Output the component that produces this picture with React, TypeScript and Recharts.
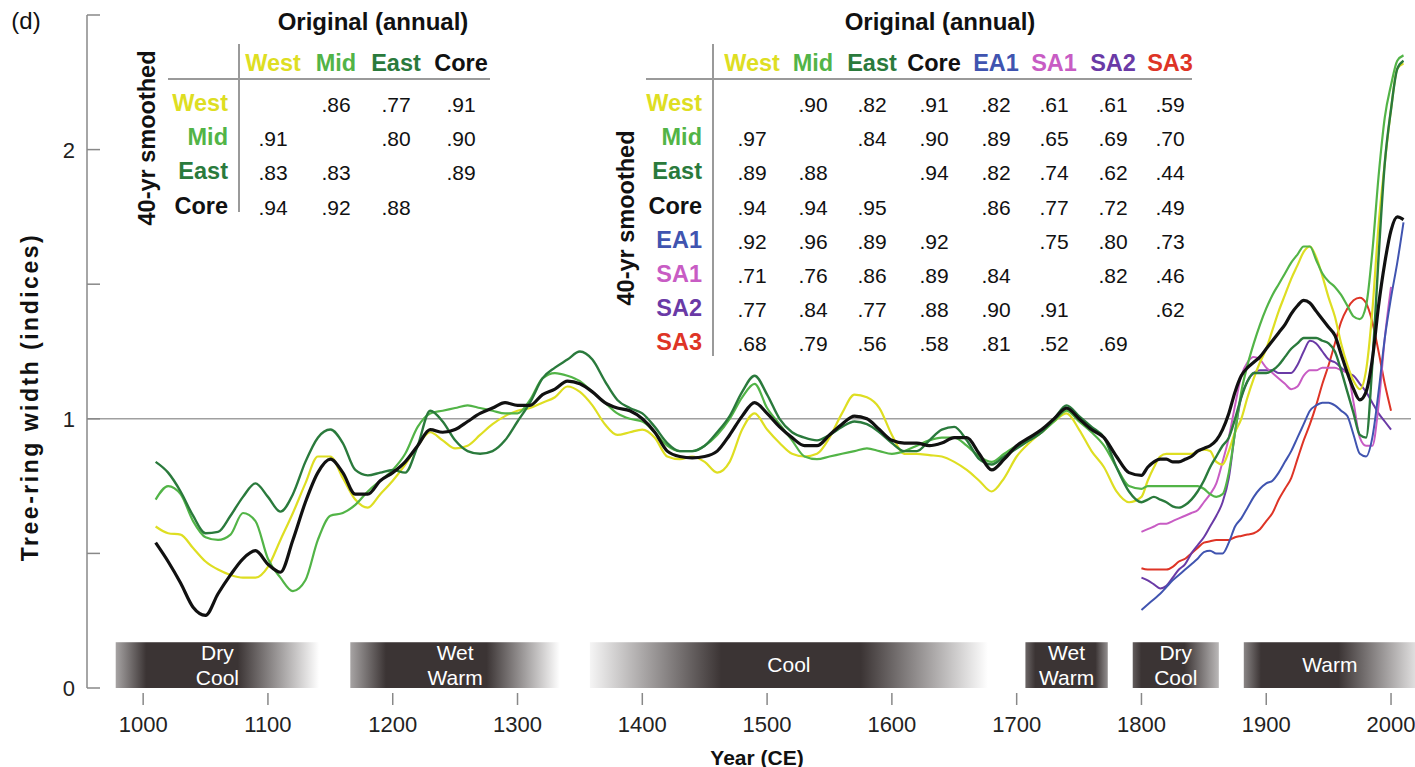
import { LineChart, Line, XAxis, YAxis, ReferenceLine, ReferenceArea } from 'recharts'

// year grid: decadal to 1790, then 5-yearly to 2010
const years = [
  1010, 1020, 1030, 1040, 1050, 1060, 1070, 1080, 1090, 1100,
  1110, 1120, 1130, 1140, 1150, 1160, 1170, 1180, 1190, 1200,
  1210, 1220, 1230, 1240, 1250, 1260, 1270, 1280, 1290, 1300,
  1310, 1320, 1330, 1340, 1350, 1360, 1370, 1380, 1390, 1400,
  1410, 1420, 1430, 1440, 1450, 1460, 1470, 1480, 1490, 1500,
  1510, 1520, 1530, 1540, 1550, 1560, 1570, 1580, 1590, 1600,
  1610, 1620, 1630, 1640, 1650, 1660, 1670, 1680, 1690, 1700,
  1710, 1720, 1730, 1740, 1750, 1760, 1770, 1780, 1790,
  1800, 1805, 1810, 1815, 1820, 1825, 1830, 1835, 1840, 1845,
  1850, 1855, 1860, 1865, 1870, 1875, 1880, 1885, 1890, 1895,
  1900, 1905, 1910, 1915, 1920, 1925, 1930, 1935, 1940, 1945,
  1950, 1955, 1960, 1965, 1970, 1975, 1980, 1985, 1990, 1995,
  2000, 2005, 2010,
]

const west = [
  0.6, 0.575, 0.57, 0.52, 0.47, 0.44, 0.42, 0.41, 0.41, 0.45,
  0.55, 0.65, 0.76, 0.86, 0.86, 0.78, 0.7, 0.67, 0.72, 0.77,
  0.83, 0.9, 0.95, 0.92, 0.89, 0.9, 0.94, 0.98, 1.01, 1.03,
  1.04, 1.06, 1.08, 1.12, 1.1, 1.05, 0.98, 0.94, 0.95, 0.96,
  0.93, 0.86, 0.85, 0.86, 0.84, 0.8, 0.84, 0.96, 1.02, 0.96,
  0.91, 0.87, 0.86, 0.87, 0.93, 1.02, 1.09, 1.08, 1.04, 0.94,
  0.87, 0.87, 0.865, 0.86, 0.84, 0.81, 0.77, 0.73, 0.78, 0.86,
  0.91, 0.95, 0.99, 1.02, 0.96, 0.88, 0.82, 0.73, 0.69,
  0.71, 0.77, 0.82, 0.86, 0.87, 0.87, 0.87, 0.87, 0.87, 0.88,
  0.885, 0.88, 0.84, 0.83, 0.88, 0.95, 1.0, 1.08, 1.15, 1.21,
  1.26, 1.33, 1.4, 1.46, 1.52, 1.57, 1.62, 1.64, 1.6, 1.53,
  1.45, 1.38, 1.28, 1.2, 1.14, 1.11, 1.18, 1.4, 1.72, 1.95,
  2.15, 2.3, 2.32,
]

const mid = [
  0.7, 0.75, 0.72, 0.62, 0.56, 0.55, 0.57, 0.65, 0.62, 0.48,
  0.41, 0.36, 0.4, 0.55, 0.64, 0.65, 0.68, 0.73, 0.77, 0.81,
  0.87, 0.97, 1.02, 1.03, 1.04, 1.05, 1.04, 1.03, 1.02, 1.02,
  1.07, 1.15, 1.17, 1.16, 1.14, 1.1, 1.06, 1.02, 1.0, 0.99,
  0.95, 0.9, 0.88, 0.88, 0.9, 0.94, 1.0, 1.08, 1.13, 1.04,
  0.98, 0.92, 0.86, 0.85, 0.86, 0.87, 0.88, 0.89, 0.88, 0.87,
  0.88, 0.9, 0.92, 0.93, 0.93, 0.9, 0.86, 0.84, 0.87, 0.9,
  0.92, 0.95, 0.99, 1.03, 0.99, 0.95, 0.9, 0.82, 0.75,
  0.74, 0.75, 0.75, 0.75, 0.75, 0.75, 0.75, 0.75, 0.75, 0.75,
  0.74, 0.72, 0.71, 0.72, 0.8, 0.95, 1.1, 1.2, 1.28, 1.35,
  1.41, 1.46, 1.5, 1.54, 1.58, 1.61, 1.64, 1.64, 1.59, 1.54,
  1.51, 1.49, 1.46, 1.42, 1.38, 1.37, 1.42, 1.62, 1.9, 2.12,
  2.24, 2.33, 2.35,
]

const east = [
  0.84, 0.8, 0.73, 0.64, 0.575, 0.58, 0.64, 0.71, 0.76, 0.71,
  0.655, 0.72, 0.84, 0.93, 0.96, 0.91, 0.81, 0.79, 0.8, 0.81,
  0.8, 0.9, 1.03, 0.99, 0.92, 0.88, 0.87, 0.88, 0.92, 0.99,
  1.06, 1.15, 1.19, 1.22, 1.25, 1.22, 1.14, 1.07, 1.04, 1.02,
  0.97, 0.91, 0.88, 0.88, 0.9, 0.95, 1.01, 1.1, 1.16, 1.09,
  1.0, 0.95, 0.93, 0.92, 0.94, 0.97, 0.99, 0.98, 0.95, 0.91,
  0.88, 0.88, 0.92, 0.96, 0.97, 0.92, 0.85, 0.83, 0.86, 0.89,
  0.92, 0.95, 1.0, 1.05, 1.01, 0.97, 0.93, 0.82, 0.73,
  0.69, 0.7, 0.71, 0.7, 0.69, 0.675, 0.67, 0.68, 0.7, 0.73,
  0.77, 0.82, 0.86, 0.9, 0.93, 1.0, 1.08, 1.14, 1.17, 1.17,
  1.17, 1.18, 1.2, 1.23, 1.26, 1.28, 1.3, 1.3, 1.3, 1.29,
  1.28, 1.25, 1.18, 1.1, 1.02, 0.94, 0.93, 1.2, 1.6, 1.95,
  2.15, 2.3, 2.33,
]

const core = [
  0.54, 0.47, 0.39, 0.3, 0.27, 0.35, 0.42, 0.48, 0.51, 0.46,
  0.43, 0.55, 0.69, 0.8, 0.85, 0.8, 0.72, 0.72, 0.77, 0.8,
  0.84, 0.9, 0.96, 0.95, 0.96, 0.99, 1.02, 1.04, 1.06, 1.05,
  1.05, 1.09, 1.11, 1.14, 1.13, 1.1, 1.06, 1.04, 1.03, 1.0,
  0.95, 0.88, 0.86, 0.855, 0.86, 0.88, 0.94, 1.01, 1.06, 1.02,
  0.97, 0.93, 0.9, 0.9, 0.94, 0.98, 1.01, 1.0, 0.96, 0.92,
  0.91, 0.91, 0.9, 0.91, 0.93, 0.93, 0.87, 0.81, 0.85, 0.9,
  0.93, 0.96, 1.0, 1.04, 1.0, 0.96, 0.93, 0.86, 0.8,
  0.79, 0.82, 0.84, 0.85, 0.85, 0.84, 0.84, 0.85, 0.86, 0.88,
  0.89, 0.9, 0.92, 0.96, 1.02, 1.1, 1.16, 1.19, 1.21, 1.23,
  1.26, 1.29, 1.32, 1.35, 1.39, 1.42, 1.44, 1.43, 1.4, 1.37,
  1.34, 1.31, 1.24, 1.17, 1.11, 1.07, 1.1, 1.22, 1.42, 1.58,
  1.7, 1.75, 1.74,
]

// short chronologies, 1800-2010 every 5 years
const ea1 = [
  0.29, 0.31, 0.33, 0.35, 0.375, 0.4, 0.42, 0.44, 0.46, 0.48,
  0.505, 0.51, 0.5, 0.5, 0.54, 0.6, 0.63, 0.67, 0.71, 0.74,
  0.76, 0.77, 0.8, 0.84, 0.88, 0.93, 0.98, 1.03, 1.05, 1.06,
  1.06, 1.05, 1.03, 1.01, 0.94, 0.87, 0.86, 0.93, 1.1, 1.3,
  1.45, 1.58, 1.73,
]
const sa1 = [
  0.58, 0.59, 0.6, 0.61, 0.61, 0.62, 0.63, 0.64, 0.65, 0.66,
  0.69, 0.72, 0.76, 0.84, 0.93, 1.05, 1.16, 1.21, 1.23, 1.22,
  1.19, 1.17, 1.15, 1.13, 1.11, 1.12, 1.16, 1.18, 1.18, 1.19,
  1.19, 1.19, 1.18, 1.17, 1.06, 0.93, 0.9, 0.9, 1.05, 1.3,
  1.49, null, null,
]
const sa2 = [
  0.41, 0.4, 0.385, 0.37, 0.38, 0.41, 0.44, 0.46, 0.5, 0.53,
  0.56, 0.6, 0.64, 0.69, 0.78, 0.95, 1.08, 1.14, 1.17, 1.18,
  1.18, 1.18, 1.17, 1.17, 1.17, 1.2, 1.25, 1.29, 1.28, 1.25,
  1.22, 1.21, 1.19, 1.17, 1.16, 1.13, 1.1, 1.06, 1.02, 0.99,
  0.96, null, null,
]
const sa3 = [
  0.445, 0.44, 0.44, 0.44, 0.44, 0.45, 0.47, 0.48, 0.5, 0.52,
  0.54, 0.545, 0.55, 0.55, 0.55, 0.56, 0.565, 0.57, 0.575, 0.59,
  0.62, 0.65, 0.7, 0.74, 0.78, 0.85, 0.92, 0.98, 1.05, 1.13,
  1.2, 1.28, 1.36, 1.41, 1.44, 1.45, 1.43, 1.36, 1.25, 1.13,
  1.03, null, null,
]

const xTicks = [1000, 1100, 1200, 1300, 1400, 1500, 1600, 1700, 1800, 1900, 2000]
const yTicks = [0, 0.5, 1, 1.5, 2, 2.5]
const yLabelled = [0, 1, 2]

const periods = [
  { from: 978, to: 1141, label: ['Dry', 'Cool'] },
  { from: 1166, to: 1334, label: ['Wet', 'Warm'] },
  { from: 1358, to: 1677, label: ['Cool'] },
  { from: 1707, to: 1773, label: ['Wet', 'Warm'] },
  { from: 1793, to: 1862, label: ['Dry', 'Cool'] },
  { from: 1882, to: 2020, label: ['Warm'] },
]

const leftCols = ['West', 'Mid', 'East', 'Core']
const leftRows = [
  ['', '.86', '.77', '.91'],
  ['.91', '', '.80', '.90'],
  ['.83', '.83', '', '.89'],
  ['.94', '.92', '.88', ''],
]
const rightCols = ['West', 'Mid', 'East', 'Core', 'EA1', 'SA1', 'SA2', 'SA3']
const rightRows = [
  ['', '.90', '.82', '.91', '.82', '.61', '.61', '.59'],
  ['.97', '', '.84', '.90', '.89', '.65', '.69', '.70'],
  ['.89', '.88', '', '.94', '.82', '.74', '.62', '.44'],
  ['.94', '.94', '.95', '', '.86', '.77', '.72', '.49'],
  ['.92', '.96', '.89', '.92', '', '.75', '.80', '.73'],
  ['.71', '.76', '.86', '.89', '.84', '', '.82', '.46'],
  ['.77', '.84', '.77', '.88', '.90', '.91', '', '.62'],
  ['.68', '.79', '.56', '.58', '.81', '.52', '.69', ''],
]

const colors: Record<string, string> = {
  West: '#dede22',
  Mid: '#52b447',
  East: '#2a7a3c',
  Core: '#111111',
  EA1: '#4054b0',
  SA1: '#c85cc4',
  SA2: '#6a3aa6',
  SA3: '#de3426',
}

const lateStart = years.indexOf(1800)
const data = years.map((year, i) => ({
  year,
  west: west[i],
  mid: mid[i],
  east: east[i],
  core: core[i],
  ea1: i >= lateStart ? ea1[i - lateStart] : null,
  sa1: i >= lateStart ? sa1[i - lateStart] : null,
  sa2: i >= lateStart ? sa2[i - lateStart] : null,
  sa3: i >= lateStart ? sa3[i - lateStart] : null,
}))

const series = [
  { key: 'sa3', name: 'SA3', w: 2 },
  { key: 'sa2', name: 'SA2', w: 2 },
  { key: 'sa1', name: 'SA1', w: 2 },
  { key: 'ea1', name: 'EA1', w: 2 },
  { key: 'west', name: 'West', w: 2.2 },
  { key: 'mid', name: 'Mid', w: 2.2 },
  { key: 'east', name: 'East', w: 2.4 },
  { key: 'core', name: 'Core', w: 3.2 },
]

// horizontal fade of each period bar
const bandStops = [
  [[0, 0.45], [0.15, 1], [0.6, 1], [1, 0]],
  [[0, 0.45], [0.17, 1], [0.65, 1], [1, 0]],
  [[0, 0.05], [0.33, 1], [0.68, 1], [1, 0]],
  [[0, 0.75], [0.12, 1], [0.85, 1], [1, 0.55]],
  [[0, 0.8], [0.1, 1], [0.6, 1], [1, 0.35]],
  [[0, 0.6], [0.1, 1], [0.55, 1], [1, 0.15]],
]

const FONT = '"Liberation Sans", Arial, Helvetica, sans-serif'
const BAND = '#3b3434'

function Band(props: any) {
  const { x, y, width, height, idx } = props
  const p = periods[idx]
  const cx = x + width / 2
  const cy = y + height / 2
  return (
    <g>
      <defs>
        <linearGradient id={`band${idx}`} x1="0" y1="0" x2="1" y2="0">
          {bandStops[idx].map(([o, a], k) => (
            <stop key={k} offset={o} stopColor={BAND} stopOpacity={a} />
          ))}
        </linearGradient>
      </defs>
      <rect x={x} y={y} width={width} height={height} fill={`url(#band${idx})`} />
      {p.label.map((t, k) => (
        <text
          key={k}
          x={cx}
          y={p.label.length === 1 ? cy + 7 : cy - 5 + k * 25}
          textAnchor="middle"
          fill="#fff"
          fontSize={21}
          fontFamily={FONT}
        >
          {t}
        </text>
      ))}
    </g>
  )
}

function YTick(props: any) {
  const { x, y, payload } = props
  return (
    <g>
      <line x1={x} x2={x + 13} y1={y} y2={y} stroke="#888" strokeWidth={1.5} />
      {yLabelled.includes(payload.value) && (
        <text x={x - 12} y={y + 8} textAnchor="end" fontSize={22} fill="#222" fontFamily={FONT}>
          {payload.value}
        </text>
      )}
    </g>
  )
}

function XTick(props: any) {
  const { x, y, payload } = props
  return (
    <g>
      <line x1={x} x2={x} y1={y + 5} y2={y + 17} stroke="#888" strokeWidth={1.5} />
      <text x={x} y={y + 44} textAnchor="middle" fontSize={22} fill="#222" fontFamily={FONT}>
        {payload.value}
      </text>
    </g>
  )
}

function Txt({ x, y, children, color = '#111', size = 21, bold = false, align = 'center', rotate = false, spacing = 0 }: any) {
  const tx = align === 'center' ? '-50%' : align === 'right' ? '-100%' : '0'
  return (
    <div
      style={{
        position: 'absolute',
        left: x,
        top: y,
        transform: `translate(${tx}, -50%)${rotate ? ' rotate(-90deg)' : ''}`,
        transformOrigin: rotate ? 'center' : undefined,
        whiteSpace: 'nowrap',
        fontFamily: FONT,
        fontSize: size,
        fontWeight: bold ? 'bold' : 'normal',
        letterSpacing: spacing,
        color,
        lineHeight: 1,
      }}
    >
      {children}
    </div>
  )
}

function CorrTable({ cols, rows, colX, labelRight, ruleLeft, ruleRight, vRuleX, vRuleBottom, titleX, sideX, sideY }: any) {
  const rowY = (i: number) => 104 + i * 34.2
  return (
    <>
      <Txt x={titleX} y={22} size={24} bold>Original (annual)</Txt>
      {cols.map((c: string, j: number) => (
        <Txt key={c} x={colX[j]} y={64} size={23.5} bold color={colors[c]}>{c}</Txt>
      ))}
      <div style={{ position: 'absolute', left: ruleLeft, top: 78, width: ruleRight - ruleLeft, height: 2, background: '#9a9a9a' }} />
      <div style={{ position: 'absolute', left: vRuleX, top: 44, width: 1.5, height: vRuleBottom - 44, background: '#9a9a9a' }} />
      {cols.map((c: string, i: number) => (
        <Txt key={'r' + c} x={labelRight} y={rowY(i)} size={23.5} bold align="right" color={colors[c]}>{c}</Txt>
      ))}
      {rows.map((r: string[], i: number) =>
        r.map((v, j) => (v ? <Txt key={`${i}-${j}`} x={colX[j]} y={rowY(i)} size={21}>{v}</Txt> : null))
      )}
      <Txt x={sideX} y={sideY} size={23.5} bold rotate>40-yr smoothed</Txt>
    </>
  )
}

export default function App() {
  return (
    <div style={{ position: 'absolute', left: 0, top: 0, width: 1415, height: 767, background: '#fff', fontFamily: FONT }}>
      <LineChart width={1415} height={767} data={data} margin={{ top: 15, right: 4, bottom: 0, left: 40 }}>
        <XAxis
          dataKey="year"
          type="number"
          domain={[955, 2016]}
          ticks={xTicks}
          axisLine={false}
          tickLine={false}
          tickSize={0}
          tickMargin={0}
          height={79}
          tick={<XTick />}
          allowDataOverflow
        />
        <YAxis
          type="number"
          domain={[0, 2.5]}
          ticks={yTicks}
          width={47}
          axisLine={{ stroke: '#888', strokeWidth: 1.5 }}
          tickLine={false}
          tickSize={0}
          tickMargin={0}
          tick={<YTick />}
          allowDataOverflow
        />
        <ReferenceLine y={1} stroke="#a0a0a0" strokeWidth={1.5} />
        {periods.map((p, i) => (
          <ReferenceArea
            key={i}
            x1={p.from}
            x2={p.to}
            y1={0}
            y2={0.17}
            ifOverflow="visible"
            shape={(sp: any) => <Band {...sp} idx={i} />}
          />
        ))}
        {series.map((s) => (
          <Line
            key={s.key}
            type="monotone"
            dataKey={s.key}
            stroke={colors[s.name]}
            strokeWidth={s.w}
            dot={false}
            connectNulls={false}
            isAnimationActive={false}
          />
        ))}
      </LineChart>

      <Txt x={26} y={21} size={24}>(d)</Txt>
      <Txt x={30} y={397} size={23} bold rotate spacing={2.5}>Tree-ring width (indices)</Txt>
      <Txt x={757} y={757} size={21} bold>Year (CE)</Txt>

      <CorrTable
        cols={leftCols}
        rows={leftRows}
        colX={[273, 336, 396, 461]}
        labelRight={228}
        ruleLeft={168}
        ruleRight={490}
        vRuleX={238}
        vRuleBottom={212}
        titleX={373}
        sideX={148}
        sideY={138}
      />
      <CorrTable
        cols={rightCols}
        rows={rightRows}
        colX={[752, 813, 872, 934, 996, 1054, 1113, 1170]}
        labelRight={702}
        ruleLeft={646}
        ruleRight={1192}
        vRuleX={712}
        vRuleBottom={356}
        titleX={940}
        sideX={627}
        sideY={218}
      />
    </div>
  )
}
